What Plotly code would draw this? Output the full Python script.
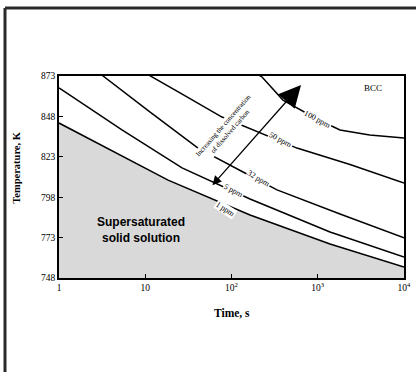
import plotly.graph_objects as go
import math

# ---- data ----
t_100 = [160, 226, 395, 980, 1810, 4000, 10000]
T_100 = [877, 872.4, 858.1, 846.4, 839.6, 836.5, 834.6]

t_50 = [8.7, 11.4, 25.3, 77.6, 214, 574, 2366, 10000]
T_50 = [876.7, 873, 862.5, 847.6, 838.0, 828.4, 818.2, 806.8]

t_32 = [2.6, 3.24, 11.4, 40.9, 136, 337, 1811, 10000]
T_32 = [876.7, 873, 850.7, 828.4, 813.6, 802.5, 787.6, 772.8]

t_5 = [1, 5.37, 26.7, 93.5, 164, 1387, 10000]
T_5 = [865.6, 839.6, 816.1, 802.5, 796.9, 776.5, 761.0]

t_1 = [1, 3.9, 18.4, 164, 1387, 10000]
T_1 = [843.9, 827.2, 808.6, 787.0, 769.0, 754.8]

curve_names = ["100 ppm", "50 ppm", "32 ppm", "5 ppm", "1 ppm"]
label_t = [1000, 365, 205, 105, 86]
label_T = [846.0, 833.4, 809.3, 802.0, 790.5]
label_angle = [28, 28, 31, 28, 33]

y_ticks = [873, 848, 823, 798, 773, 748]
x_ticks = [1, 10, 100, 1000, 10000]
x_ticktext = ["1", "10", "10<sup>2</sup>", "10<sup>3</sup>", "10<sup>4</sup>"]

arrow_head = (640, 867.5)
arrow_tail = (58, 804.5)

SERIF = "Liberation Serif"
SANS = "Liberation Sans"

fig = go.Figure()

# shaded supersaturated region below the 1 ppm curve
fig.add_trace(go.Scatter(x=t_1, y=T_1, mode="lines", line=dict(color="black", width=1.5),
                         fill="tozeroy", fillcolor="#d9d9d9", showlegend=False, hoverinfo="skip"))
for tx, Ty in [(t_5, T_5), (t_32, T_32), (t_50, T_50), (t_100, T_100)]:
    fig.add_trace(go.Scatter(x=tx, y=Ty, mode="lines", line=dict(color="black", width=1.5),
                             showlegend=False, hoverinfo="skip"))

# curve labels
for name, lt, lT, ang in zip(curve_names, label_t, label_T, label_angle):
    fig.add_annotation(x=math.log10(lt), y=lT, text=name, showarrow=False, textangle=ang,
                       font=dict(family=SERIF, size=8, color="black"), bgcolor="white", borderpad=0)

# double-headed arrow
fig.add_annotation(x=math.log10(arrow_head[0]), y=arrow_head[1],
                   ax=math.log10(arrow_tail[0]), ay=arrow_tail[1], axref="x", ayref="y",
                   xref="x", yref="y", text="", showarrow=True,
                   arrowhead=2, arrowsize=3.4, arrowwidth=1.3, arrowcolor="black",
                   arrowside="end+start", startarrowhead=2, startarrowsize=1.4)

fig.add_annotation(x=math.log10(88), y=840.5, text="Increasing the concentration<br>of dissolved carbon",
                   showarrow=False, textangle=-49, font=dict(family=SERIF, size=7, color="black"),
                   bgcolor="white", borderpad=0)

fig.add_annotation(x=math.log10(4375), y=865.6, text="BCC", showarrow=False,
                   font=dict(family=SERIF, size=9, color="black"))

fig.add_annotation(x=math.log10(8.9), y=777.7, text="<b>Supersaturated<br>solid solution</b>",
                   showarrow=False, font=dict(family=SANS, size=12, color="black"))

# axis titles
fig.add_annotation(xref="paper", yref="paper", x=0.5, y=-0.173, xanchor="center", yanchor="middle",
                   text="<b>Time, s</b>", showarrow=False,
                   font=dict(family=SERIF, size=11.5, color="black"))
fig.add_annotation(xref="paper", yref="paper", x=-0.122, y=0.55, xanchor="center", yanchor="middle",
                   text="<b>Temperature, K</b>", showarrow=False, textangle=-90,
                   font=dict(family=SERIF, size=10.5, color="black"))

# outer frame fragments
fig.add_shape(type="line", xref="paper", yref="paper", x0=-0.1565, x1=-0.1565, y0=1.3366, y1=-0.5,
              line=dict(color="#2a2a2a", width=3))
fig.add_shape(type="line", xref="paper", yref="paper", x0=-0.1565, x1=1.1, y0=1.3366, y1=1.3366,
              line=dict(color="#2a2a2a", width=3))

fig.update_xaxes(type="log", range=[0, 4], tickvals=x_ticks, ticktext=x_ticktext,
                 ticks="inside", ticklen=4, tickcolor="black", showgrid=False, zeroline=False,
                 showline=True, linecolor="black", linewidth=1.5, mirror=True,
                 tickfont=dict(family=SERIF, size=9.5, color="black"))
fig.update_yaxes(range=[748, 873], tickvals=y_ticks, ticks="inside", ticklen=4, tickcolor="black",
                 showgrid=False, zeroline=False, showline=True, linecolor="black", linewidth=1.5,
                 mirror=True, tickfont=dict(family=SERIF, size=9.5, color="black"))

fig.update_layout(width=416, height=372, margin=dict(l=59, r=12, t=76, b=94, autoexpand=False),
                  plot_bgcolor="white", paper_bgcolor="white", showlegend=False)

fig.write_html("out.html", config={"displayModeBar": False},
               post_script="document.body.style.margin='0';")
